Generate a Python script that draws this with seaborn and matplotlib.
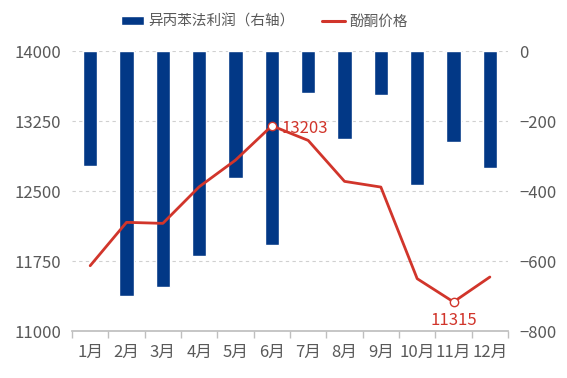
import numpy as np
import pandas as pd
import seaborn as sns
import matplotlib.pyplot as plt
from matplotlib.patches import Patch
from matplotlib.lines import Line2D

months = ["1月", "2月", "3月", "4月", "5月", "6月", "7月", "8月", "9月", "10月", "11月", "12月"]
profit = [-327, -698, -672, -584, -361, -553, -120, -250, -124, -381, -258, -333]
price = [11703, 12168, 12157, 12549, 12835, 13203, 13046, 12607, 12546, 11564, 11315, 11582]

df = pd.DataFrame({"month": months, "profit": profit, "price": price})

sns.set_theme(style="white")
plt.rcParams["font.family"] = ["Noto Sans CJK SC", "DejaVu Sans"]

blue = "#023886"
red = "#D1352B"
grey = "#595959"

fig = plt.figure(figsize=(5.67, 3.78), dpi=100)
ax = fig.add_axes([0.127, 0.1235, 0.769, 0.7405])

# bars (profit, right axis)
sns.barplot(data=df, x="month", y="profit", color=blue, width=0.4, ax=ax,
            saturation=1, zorder=2)
ax.set_ylim(-800, 0)
ax.set_yticks([0, -200, -400, -600, -800])
ax.grid(axis="y", color="#d0d0d0", linestyle=(0, (3, 3)), linewidth=0.8)
ax.set_axisbelow(True)

# line (price, left axis)
ax2 = ax.twinx()
sns.lineplot(data=df, x="month", y="price", color=red, linewidth=2.0, ax=ax2, zorder=3)
ax2.set_ylim(11000, 14000)
ax2.set_yticks([11000, 11750, 12500, 13250, 14000])
ax2.yaxis.tick_left()
ax.yaxis.tick_right()

for i in [5, 10]:
    ax2.plot(months[i], price[i], "o", markersize=6, markerfacecolor="white",
             markeredgecolor=red, markeredgewidth=1, zorder=4)
ax2.annotate(str(price[5]), (months[5], price[5]), xytext=(7, -2), textcoords="offset points",
             color=red, fontsize=12, ha="left", va="center")
ax2.annotate(str(price[10]), (months[10], price[10]), xytext=(0, -7), textcoords="offset points",
             color=red, fontsize=12, ha="center", va="top")

for a in (ax, ax2):
    a.set_xlabel("")
    a.set_ylabel("")
    for s in a.spines.values():
        s.set_visible(False)
    a.tick_params(axis="y", length=0, labelsize=12, labelcolor=grey, pad=8)
ax.set_xlim(-0.5, 11.5)
ax.spines["bottom"].set_visible(True)
ax.spines["bottom"].set_color("#bfbfbf")
ax.set_xticks(np.arange(-0.5, 12, 1), minor=True)
ax.tick_params(axis="x", which="major", length=0, labelsize=12, labelcolor=grey, pad=9)
ax.tick_params(axis="x", which="minor", length=5, color="#bfbfbf", bottom=True)
ax2.tick_params(axis="x", length=0)

handles = [Patch(facecolor=blue, label="异丙苯法利润（右轴）"),
           Line2D([], [], color=red, linewidth=2.2, label="酚酮价格")]
fig.legend(handles=handles, loc="center", bbox_to_anchor=(0.466, 0.943), ncol=2, frameon=False,
           fontsize=10.5, labelcolor=grey, handlelength=1.6, handleheight=0.6,
           handletextpad=0.25, columnspacing=1.9)

fig.savefig("out.png", dpi=100)
